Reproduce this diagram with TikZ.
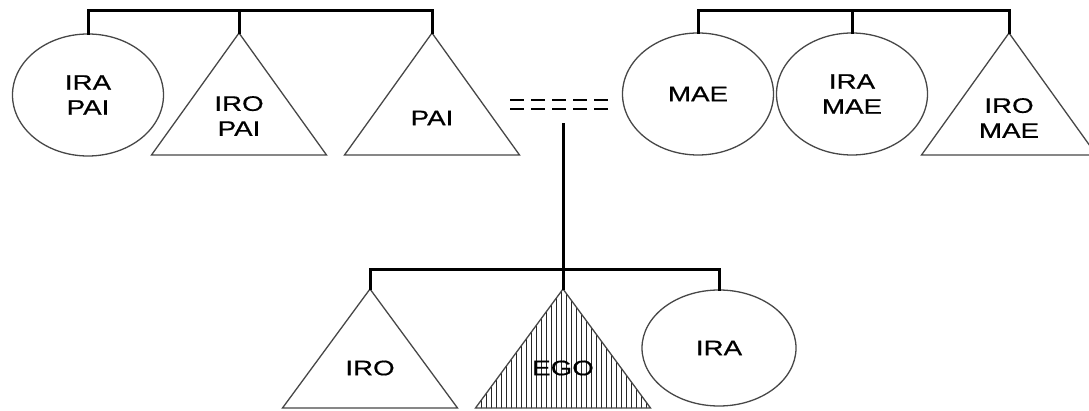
\documentclass[tikz,border=0pt]{standalone}
\usepackage{fontspec}
\setmainfont{Liberation Sans}[FakeStretch=1.32,FakeBold=0.6]
\usetikzlibrary{shapes.geometric}
\begin{document}
\begin{tikzpicture}[x=1pt,y=-1pt,
  conn/.style={line width=3pt,line cap=rect,line join=miter,black},
  outline/.style={line width=1.3pt,draw=black!72,line join=miter},
  ell/.style={ellipse,outline,minimum width=151pt,minimum height=122pt,inner sep=0pt,align=center,font=\fontsize{21}{25}\selectfont},
  lbl/.style={align=center,inner sep=0pt,font=\fontsize{21}{25}\selectfont},
  wed/.style={line width=2.8pt,dash pattern=on 14pt off 7pt}]
\useasboundingbox (0,0) rectangle (1089,411);

% top-left family
\node[ell] (irapai) at (88,95) {IRA\\PAI};
\coordinate (iropaiT) at (239,33);
\coordinate (paiT) at (432,33);
\draw[outline] (iropaiT) -- ++(-87.5,122) -- ++(175,0) -- cycle;
\draw[outline] (paiT) -- ++(-87.5,122) -- ++(175,0) -- cycle;
\node[lbl] (iropai) at (239,116) {IRO\\PAI};
\node[lbl] (pai) at (432,118) {PAI};
\coordinate (barL) at (260,11);
\draw[conn] (irapai.north) |- (barL) -| (paiT);
\draw[conn] (iropaiT) -- (iropaiT |- barL);

% top-right family
\node[ell] (mae) at (698,94) {MAE};
\node[ell] (iramae) at (852,94) {IRA\\MAE};
\coordinate (iromaeT) at (1009,33);
\draw[outline] (iromaeT) -- ++(-87.5,122) -- ++(175,0) -- cycle;
\node[lbl] (iromae) at (1009,118) {IRO\\MAE};
\coordinate (barR) at (850,11);
\draw[conn] (mae.north) |- (barR) -| (iromaeT);
\draw[conn] (iramae.north) -- (iramae.north |- barR);

% marriage sign
\coordinate (wA1) at (510,100);
\coordinate (wA2) at (608,100);
\coordinate (wB1) at (510,109);
\coordinate (wB2) at (608,109);
\draw[wed] (wA1) -- (wA2);
\draw[wed] (wB1) -- (wB2);
\coordinate (desc) at (563,125);

% children
\coordinate (iroT) at (370,289);
\coordinate (egoT) at (563,289);
\draw[outline] (iroT) -- ++(-87.5,119) -- ++(175,0) -- cycle;
\begin{scope}
  \clip (egoT) -- ++(-87.5,119) -- ++(175,0) -- cycle;
  \foreach \x in {476,481,...,652} \draw[line width=1pt,black!85] (\x,285) -- (\x,412);
\end{scope}
\draw[outline] (egoT) -- ++(-87.5,119) -- ++(175,0) -- cycle;
\node[lbl] (iro) at (370,368) {IRO};
\node[lbl] (ego) at (563,368) {EGO};
\node[ell,minimum width=154pt,minimum height=116pt] (ira) at (719,348) {IRA};
\coordinate (barB) at (563,270);
\draw[conn] (iroT) |- (barB) -| (ira.north);
\draw[conn] (desc) -- (egoT);
\end{tikzpicture}
\end{document}
